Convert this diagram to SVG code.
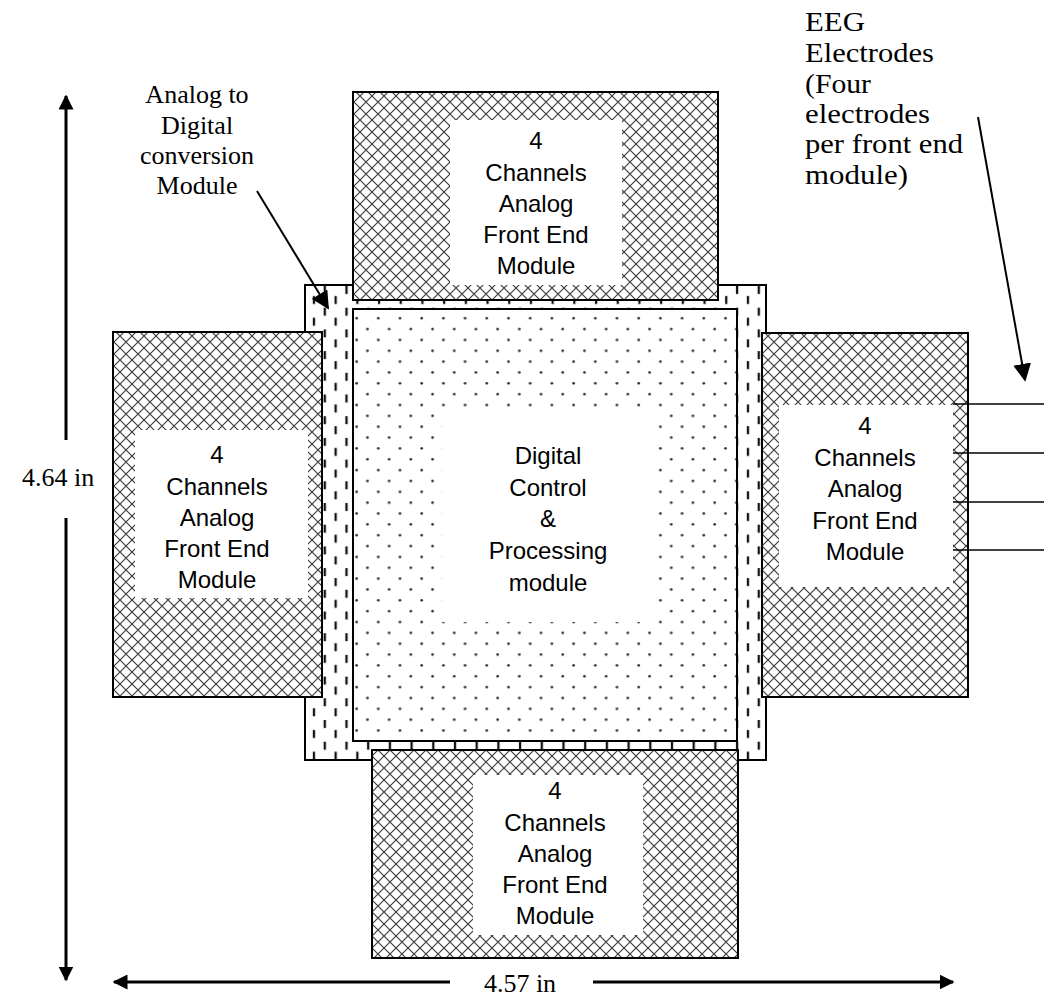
<svg xmlns="http://www.w3.org/2000/svg" width="1044" height="996" viewBox="0 0 1044 996">
<style>
.serif{font-family:"Liberation Serif","Times New Roman",serif;fill:#000}
.eeg{font-size:27px}
.sans{font-family:"Liberation Sans",Arial,sans-serif;font-size:24px;fill:#000;text-anchor:middle}
.box{stroke:#000;stroke-width:2}
.wire{stroke:#000;stroke-width:1.5;fill:none}
.arr{stroke:#000;stroke-width:3;fill:none}
.thin{stroke:#000;stroke-width:2;fill:none}
</style>
<defs>
<pattern id="cross" patternUnits="userSpaceOnUse" width="12" height="12">
<rect width="12" height="12" fill="#fff"/>
<path d="M0,0L12,12M12,0L0,12" stroke="#3a3a3a" stroke-width="1.15"/>
</pattern>
<pattern id="dots" patternUnits="userSpaceOnUse" x="353" y="309" width="21.7" height="21.7">
<rect width="21.7" height="21.7" fill="#fff"/>
<circle cx="3.6" cy="9.2" r="1.35" fill="#333"/>
<circle cx="14.45" cy="20.05" r="1.35" fill="#333"/>
</pattern>
<pattern id="dash" patternUnits="userSpaceOnUse" x="305" y="285" width="21.7" height="21.7">
<rect width="21.7" height="21.7" fill="#fff"/>
<rect x="7.8" y="11" width="2.3" height="8" fill="#111"/>
<rect x="18.65" y="1" width="2.3" height="8" fill="#111"/>
</pattern>
<marker id="ah" viewBox="0 0 10 10" refX="9" refY="5" markerWidth="5" markerHeight="5" orient="auto" markerUnits="strokeWidth">
<path d="M0,0L10,5L0,10z" fill="#000"/>
</marker>
<marker id="ah2" viewBox="0 0 10 10" refX="9" refY="5" markerWidth="9" markerHeight="9" orient="auto" markerUnits="strokeWidth">
<path d="M0,0L10,5L0,10z" fill="#000"/>
</marker>
</defs>
<rect width="1044" height="996" fill="#fff"/>

<g id="adc-module">
<rect class="box" x="305" y="285" width="461" height="475" fill="url(#dash)"/>
</g>

<g id="digital-module">
<rect class="box" x="353" y="309" width="384" height="432" fill="url(#dots)"/>
<rect x="442" y="410" width="213" height="212" fill="#fff"/>
<text class="sans" x="548" y="464">Digital</text>
<text class="sans" x="548" y="496">Control</text>
<text class="sans" x="548" y="527">&amp;</text>
<text class="sans" x="548" y="559">Processing</text>
<text class="sans" x="548" y="591">module</text>
</g>

<g id="afe-top">
<rect class="box" x="353" y="92" width="365" height="208" fill="url(#cross)"/>
<rect x="450" y="120" width="172" height="165" fill="#fff"/>
<text class="sans" x="536" y="149">4</text>
<text class="sans" x="536" y="181">Channels</text>
<text class="sans" x="536" y="212">Analog</text>
<text class="sans" x="536" y="243">Front End</text>
<text class="sans" x="536" y="274">Module</text>
</g>

<g id="afe-left">
<rect class="box" x="113" y="332" width="209" height="365" fill="url(#cross)"/>
<rect x="135" y="430" width="173" height="168" fill="#fff"/>
<text class="sans" x="217" y="463">4</text>
<text class="sans" x="217" y="495">Channels</text>
<text class="sans" x="217" y="526">Analog</text>
<text class="sans" x="217" y="557">Front End</text>
<text class="sans" x="217" y="588">Module</text>
</g>

<g id="afe-right">
<rect class="box" x="762" y="333" width="206" height="364" fill="url(#cross)"/>
<rect x="779" y="405" width="174" height="182" fill="#fff"/>
<text class="sans" x="865" y="434">4</text>
<text class="sans" x="865" y="466">Channels</text>
<text class="sans" x="865" y="497">Analog</text>
<text class="sans" x="865" y="529">Front End</text>
<text class="sans" x="865" y="560">Module</text>
</g>

<g id="afe-bottom">
<rect class="box" x="372" y="750" width="366" height="208" fill="url(#cross)"/>
<rect x="473" y="775" width="170" height="160" fill="#fff"/>
<text class="sans" x="555" y="799">4</text>
<text class="sans" x="555" y="831">Channels</text>
<text class="sans" x="555" y="862">Analog</text>
<text class="sans" x="555" y="893">Front End</text>
<text class="sans" x="555" y="924">Module</text>
</g>

<g id="label-adc">
<text class="serif" font-size="26" text-anchor="middle" x="197" y="103">Analog to</text>
<text class="serif" font-size="26" text-anchor="middle" x="197" y="134">Digital</text>
<text class="serif" font-size="26" text-anchor="middle" x="197" y="164">conversion</text>
<text class="serif" font-size="26" text-anchor="middle" x="197" y="194">Module</text>
</g>

<g id="label-eeg">
<text class="serif eeg" x="805" y="31" textLength="60" lengthAdjust="spacingAndGlyphs">EEG</text>
<text class="serif eeg" x="805" y="62" textLength="129" lengthAdjust="spacingAndGlyphs">Electrodes</text>
<text class="serif eeg" x="805" y="93" textLength="66" lengthAdjust="spacingAndGlyphs">(Four</text>
<text class="serif eeg" x="805" y="123" textLength="125" lengthAdjust="spacingAndGlyphs">electrodes</text>
<text class="serif eeg" x="805" y="153" textLength="158" lengthAdjust="spacingAndGlyphs">per front end</text>
<text class="serif eeg" x="805" y="184" textLength="103" lengthAdjust="spacingAndGlyphs">module)</text>
</g>

<g id="label-dims">
<text class="serif" font-size="26" x="22" y="486">4.64 in</text>
<text class="serif" font-size="26" text-anchor="middle" x="520" y="992">4.57 in</text>
</g>

<g id="connectors">
<line class="wire" x1="953" y1="404" x2="1044" y2="404"/>
<line class="wire" x1="953" y1="453" x2="1044" y2="453"/>
<line class="wire" x1="953" y1="502" x2="1044" y2="502"/>
<line class="wire" x1="953" y1="550" x2="1044" y2="550"/>
<line class="arr" x1="66" y1="440" x2="66" y2="96" marker-end="url(#ah)"/>
<line class="arr" x1="66" y1="518" x2="66" y2="980" marker-end="url(#ah)"/>
<line class="arr" x1="450" y1="982" x2="114" y2="982" marker-end="url(#ah)"/>
<line class="arr" x1="593" y1="982" x2="953" y2="982" marker-end="url(#ah)"/>
<line class="thin" x1="257" y1="191" x2="328" y2="308" marker-end="url(#ah2)"/>
<line class="thin" x1="978" y1="117" x2="1025" y2="380" marker-end="url(#ah2)"/>
</g>
</svg>
